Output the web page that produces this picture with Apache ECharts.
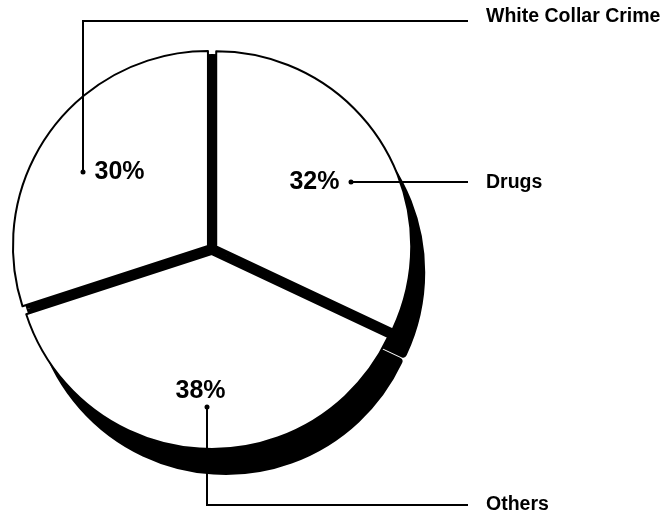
<!DOCTYPE html>
<html><head><meta charset="utf-8">
<script src="https://cdn.jsdelivr.net/npm/echarts@6/dist/echarts.min.js"></script>
<style>html,body{margin:0;padding:0;background:#fff}#c{width:669px;height:514px}</style>
</head><body><div id="c"></div>
<script>
// ---- data ----
const categories = ['Drugs', 'Others', 'White Collar Crime'];
const shares = [32, 38, 30];

// ---- layout (positions / styles) ----
const CX = 212, CY = 249, R = 195, OFF = 5;
const SH_DX = 14, SH_DY = 26;
const FONT = '"Liberation Sans", Arial, sans-serif';
const NAME_X = 486, LINE_END = 468;
const anchors = {
  'Drugs': { dot: [351, 182], textY: 183, line: function (d) { return [[d[0], d[1]], [410, d[1]], [LINE_END, d[1]]]; } },
  'Others': { dot: [207, 408], textY: 505, line: function (d) { return [[d[0], d[1]], [d[0], 505], [LINE_END, 505]]; } },
  'White Collar Crime': { dot: [83, 172], textY: 17, line: function (d) { return [[d[0], d[1]], [d[0], 21], [LINE_END, 21]]; } }
};

const chart = echarts.init(document.getElementById('c'), null, { renderer: 'canvas' });

function dataSel(sel) {
  return categories.map(function (n, i) { return { name: n, value: shares[i], selected: sel }; });
}

const common = {
  type: 'pie',
  startAngle: 90,
  clockwise: true,
  avoidLabelOverlap: false,
  animation: false,
  emphasis: { disabled: true },
  selectedMode: 'multiple',
  selectedOffset: OFF
};

const option = {
  backgroundColor: '#fff',
  animation: false,
  series: [
    // 3D depth / shadow
    Object.assign({}, common, {
      name: 'depth', silent: true, z: 2,
      center: [CX + SH_DX, CY + SH_DY], radius: R - 4,
      data: dataSel(true),
      itemStyle: { color: '#000', borderColor: '#000', borderWidth: 8 },
      label: { show: false }, labelLine: { show: false }
    }),
    // black base showing through the gaps
    Object.assign({}, common, {
      name: 'base', silent: true, z: 2,
      center: [CX, CY], radius: R,
      data: dataSel(false),
      itemStyle: { color: '#000', borderWidth: 0 },
      label: { show: false }, labelLine: { show: false }
    }),
    // white slices
    Object.assign({}, common, {
      name: 'share', silent: true, z: 2,
      center: [CX, CY], radius: R,
      data: dataSel(true),
      itemStyle: { color: '#fff', borderColor: '#000', borderWidth: 2 },
      label: { show: false }, labelLine: { show: false }
    }),
    // percentage labels
    Object.assign({}, common, {
      name: 'pct', silent: true, z: 3,
      center: [CX, CY], radius: R,
      data: dataSel(false),
      itemStyle: { color: 'rgba(0,0,0,0)', borderWidth: 0 },
      label: {
        show: true, position: 'outside', color: '#000', fontFamily: FONT,
        formatter: function (p) {
          const pct = '{pct|' + p.value + '%}';
          if (p.name === 'Drugs') return pct + '{sp|}{dot|}';
          if (p.name === 'Others') return pct + '\n{sp2|}{dot|}';
          return '{dot|}{sp|}' + pct;
        },
        rich: {
          pct: { fontSize: 25, fontWeight: 'bold', fontFamily: FONT, color: '#000', lineHeight: 24 },
          dot: { width: 5, height: 5, borderRadius: 2.5, backgroundColor: '#000', lineHeight: 8 },
          sp: { width: 9, height: 5, lineHeight: 8 },
          sp2: { width: 13, height: 5, lineHeight: 8 }
        }
      },
      labelLine: { show: false },
      labelLayout: function (p) {
        const name = categories[p.dataIndex];
        const d = anchors[name].dot;
        if (name === 'Drugs') return { x: d[0] + 2.5, y: d[1], align: 'right', verticalAlign: 'middle' };
        if (name === 'Others') return { x: d[0] - 6.5, y: d[1] + 3, align: 'center', verticalAlign: 'bottom' };
        return { x: d[0] - 2.5, y: d[1], align: 'left', verticalAlign: 'middle' };
      }
    }),
    // category names with leader lines
    Object.assign({}, common, {
      name: 'names', silent: true, z: 3,
      center: [CX, CY], radius: R,
      data: dataSel(false),
      itemStyle: { color: 'rgba(0,0,0,0)', borderWidth: 0 },
      label: {
        show: true, position: 'outside', formatter: '{b}',
        color: '#000', fontSize: 19.5, fontWeight: 'bold', fontFamily: FONT
      },
      labelLine: { show: true, lineStyle: { color: '#000', width: 2 } },
      labelLayout: function (p) {
        const a = anchors[categories[p.dataIndex]];
        return {
          x: NAME_X, y: a.textY, align: 'left', verticalAlign: 'middle',
          labelLinePoints: a.line(a.dot)
        };
      }
    })
  ]
};
chart.setOption(option);
</script>
</body></html>
